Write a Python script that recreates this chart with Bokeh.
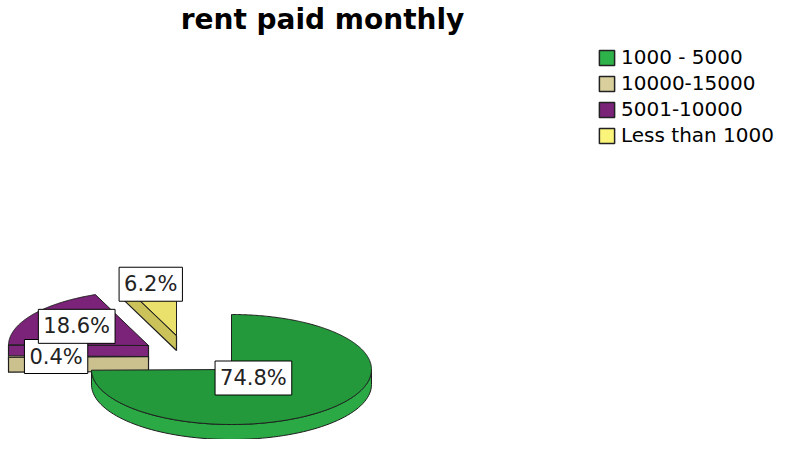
import numpy as np
from bokeh.plotting import figure
from bokeh.models import Range1d, ColumnDataSource, Legend, LegendItem, Label
from bokeh.core.properties import value
from bokeh.embed import file_html
from bokeh.resources import INLINE

# ---- data ----
chart_title = "rent paid monthly"
categories = ["1000 - 5000", "10000-15000", "5001-10000", "Less than 1000"]
percents = [74.8, 0.4, 18.6, 6.2]

# ---- style ----
legend_colors = ["#2db34a", "#d8cf9c", "#7a2178", "#fbf47a"]
top_colors = ["#24993c", "#d2c898", "#7b2379", "#e9e16c"]
side_colors = ["#2aa945", "#cbc18f", "#7e267c", "#cbc35a"]
explode = [(0, 0), (-83, -13), (-83, -24), (-55, -34)]   # screen px offsets
label_frac = [0.22, 0.66, 0.62, 0.95]
CX, CY, RX, RY, DEPTH = 231, 369, 140, 55, 15
W, H = 776, 439

p = figure(width=W, height=H, output_backend="svg", toolbar_location=None,
           x_range=Range1d(0, W), y_range=Range1d(H, 0),
           min_border=0)
p.axis.visible = False
p.grid.visible = False
p.outline_line_color = None
p.background_fill_color = "white"


def pt(cx, cy, th):
    r = np.radians(th)
    return cx + RX * np.cos(r), cy - RY * np.sin(r)


# slice angles (clockwise from 12 o'clock, in order of the data)
slices = []
start = 90.0
for i, pc in enumerate(percents):
    hi = start
    lo = start - pc * 3.6
    start = lo
    slices.append((i, lo, hi))

order = sorted(range(len(percents)), key=lambda i: explode[i][1])
label_x, label_y, label_t = [], [], []
EDGE = "#1e1e1e"

for i in order:
    _, lo, hi = slices[i]
    cx, cy = CX + explode[i][0], CY + explode[i][1]
    # visible outer arc side (front half)
    for k in range(-2, 3):
        a0, a1 = max(lo, -180 + 360 * k), min(hi, 360 * k)
        if a1 - a0 > 0.01:
            th = np.linspace(a0, a1, 80)
            xs, ys = pt(cx, cy, th)
            px = list(xs) + list(xs[::-1])
            py = list(ys) + list((ys + DEPTH)[::-1])
            p.patch(px, py, fill_color=side_colors[i], line_color=EDGE, line_width=1)
    # radial cut faces facing the viewer
    edges = []
    if np.cos(np.radians(lo)) > 1e-6:
        edges.append(lo)
    if np.cos(np.radians(hi)) < -1e-6:
        edges.append(hi)
    for e in edges:
        ex, ey = pt(cx, cy, e)
        p.patch([cx, ex, ex, cx], [cy, ey, ey + DEPTH, cy + DEPTH],
                fill_color=side_colors[i], line_color=EDGE, line_width=1.2)
    # top face
    th = np.linspace(lo, hi, max(3, int((hi - lo) * 2)))
    xs, ys = pt(cx, cy, th)
    p.patch([cx] + list(xs), [cy] + list(ys), fill_color=top_colors[i],
            line_color=EDGE, line_width=1)

for i, lo, hi in slices:
    cx, cy = CX + explode[i][0], CY + explode[i][1]
    mid = (lo + hi) / 2
    label_x.append(cx + label_frac[i] * RX * np.cos(np.radians(mid)))
    label_y.append(cy - label_frac[i] * RY * np.sin(np.radians(mid)))
    label_t.append(f"{percents[i]:.1f}%")

src = ColumnDataSource(dict(x=label_x, y=label_y, t=label_t))
p.text("x", "y", text="t", source=src, text_align="center", text_baseline="middle",
       text_font=value("DejaVu Sans"), text_font_size="21px", text_color="#222222",
       background_fill_color="white", border_line_color="black", border_line_width=1,
       padding=5)

p.add_layout(Label(x=322, y=19, text=chart_title, text_align="center",
                   text_baseline="alphabetic", text_font="DejaVu Sans",
                   text_font_style="bold", text_font_size="28px", text_color="black"))

# legend swatches (renderers with a single NaN vertex: only shown in the legend)
legend_items = []
for i, cat in enumerate(categories):
    r = p.patch(x=np.array([np.nan]), y=np.array([np.nan]),
                fill_color=legend_colors[i], line_color="#222222", line_width=1.5)
    legend_items.append(LegendItem(label=cat, renderers=[r]))

legend = Legend(items=legend_items, location=(597, 292), orientation="vertical",
                glyph_width=19, glyph_height=19, label_height=19, spacing=2,
                padding=0, margin=0, label_standoff=5,
                label_text_font="DejaVu Sans", label_text_font_size="20px",
                label_text_color="black", label_text_baseline="middle",
                border_line_alpha=0, background_fill_alpha=0)
p.add_layout(legend)

open("out.html", "w").write(file_html(p, INLINE))
